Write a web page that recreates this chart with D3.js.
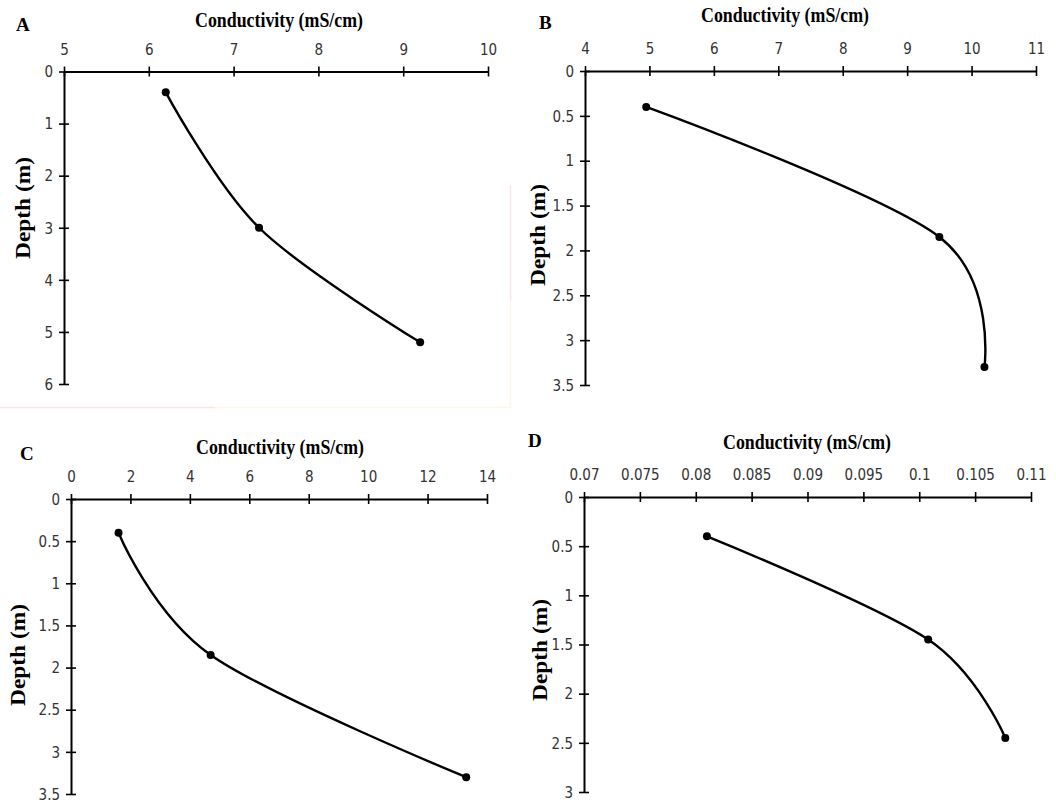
<!DOCTYPE html>
<html>
<head>
<meta charset="utf-8">
<script src="https://cdn.jsdelivr.net/npm/d3@7"></script>
<style>
  html, body { margin: 0; padding: 0; background: #fff; }
  svg { display: block; }
  .tick-label { font-family: "DejaVu Sans Condensed", "Liberation Sans Narrow", sans-serif; font-stretch: condensed; font-size: 15px; fill: #333; }
  .title { font-family: "Liberation Serif", "Times New Roman", serif; font-weight: bold; font-size: 20px; fill: #000; }
  .panel-letter { font-family: "Liberation Serif", "Times New Roman", serif; font-weight: bold; font-size: 19px; fill: #000; }
</style>
</head>
<body>
<svg id="chart" width="1056" height="807"></svg>
<script>
// Conductivity profiles with depth at four sites (A–D)
const panelIds = ["A", "B", "C", "D"];

const condA = [6.2, 7.3, 9.2];
const depthA = [0.4, 3.0, 5.2];
const condB = [4.95, 9.5, 10.2];
const depthB = [0.4, 1.85, 3.3];
const condC = [1.6, 4.7, 13.3];
const depthC = [0.4, 1.85, 3.3];
const condD = [0.081, 0.1008, 0.1077];
const depthD = [0.4, 1.45, 2.45];

const xTicksA = [5, 6, 7, 8, 9, 10];
const yTicksA = [0, 1, 2, 3, 4, 5, 6];
const xTicksB = [4, 5, 6, 7, 8, 9, 10, 11];
const yTicksB = [0, 0.5, 1, 1.5, 2, 2.5, 3, 3.5];
const xTicksC = [0, 2, 4, 6, 8, 10, 12, 14];
const yTicksC = [0, 0.5, 1, 1.5, 2, 2.5, 3, 3.5];
const xTicksD = [0.07, 0.075, 0.08, 0.085, 0.09, 0.095, 0.1, 0.105, 0.11];
const yTicksD = [0, 0.5, 1, 1.5, 2, 2.5, 3];

const xTitle = "Conductivity (mS/cm)";
const yTitle = "Depth (m)";

// Layout of each panel (pixel frame for the plot area and label anchors)
const layouts = {
  A: { x0: 64, x1: 488, y0: 71.5, y1: 384, titleX: 279, titleY: 27, letterX: 16, letterY: 31, yLabX: 24, yLabY: 208 },
  B: { x0: 585, x1: 1036, y0: 71, y1: 385, titleX: 785, titleY: 22, letterX: 539, letterY: 29, yLabX: 539, yLabY: 235 },
  C: { x0: 71, x1: 487, y0: 499, y1: 794, titleX: 280, titleY: 454, letterX: 20, letterY: 460, yLabX: 19, yLabY: 655 },
  D: { x0: 584, x1: 1031, y0: 497, y1: 792, titleX: 807, titleY: 449, letterX: 528, letterY: 447, yLabX: 541, yLabY: 650 }
};

const panels = {
  A: { cond: condA, depth: depthA, xTicks: xTicksA, yTicks: yTicksA },
  B: { cond: condB, depth: depthB, xTicks: xTicksB, yTicks: yTicksB },
  C: { cond: condC, depth: depthC, xTicks: xTicksC, yTicks: yTicksC },
  D: { cond: condD, depth: depthD, xTicks: xTicksD, yTicks: yTicksD }
};

const svg = d3.select("#chart");

// faint frame edges left around the panels
svg.append("line").attr("x1", 0).attr("x2", 215).attr("y1", 407.5).attr("y2", 407.5)
  .attr("stroke", "#fbe3e7").attr("stroke-width", 1.5);
svg.append("line").attr("x1", 215).attr("x2", 510).attr("y1", 407.5).attr("y2", 407.5)
  .attr("stroke", "#fdf7e4").attr("stroke-width", 1.5);
svg.append("line").attr("x1", 510.5).attr("x2", 510.5).attr("y1", 185).attr("y2", 300)
  .attr("stroke", "#fbe3e7").attr("stroke-width", 1.5);
svg.append("line").attr("x1", 510.5).attr("x2", 510.5).attr("y1", 300).attr("y2", 408)
  .attr("stroke", "#fdf7e4").attr("stroke-width", 1.5);

const fmt = v => String(+v.toFixed(4));

panelIds.forEach(id => {
  const p = panels[id];
  const L = layouts[id];
  const g = svg.append("g");

  const x = d3.scaleLinear()
    .domain([p.xTicks[0], p.xTicks[p.xTicks.length - 1]])
    .range([L.x0, L.x1]);
  const y = d3.scaleLinear()
    .domain([p.yTicks[0], p.yTicks[p.yTicks.length - 1]])
    .range([L.y0, L.y1]);

  // top axis (conductivity), ticks crossing the line
  const xAxis = g.append("g").attr("transform", `translate(0,${L.y0})`)
    .call(d3.axisTop(x).tickValues(p.xTicks).tickSizeInner(5).tickSizeOuter(0).tickFormat(fmt));
  xAxis.select(".domain").attr("stroke", "#000").attr("stroke-width", 2);
  xAxis.selectAll(".tick line").attr("stroke", "#000").attr("stroke-width", 1.6)
    .attr("y1", 5).attr("y2", -5);
  xAxis.selectAll(".tick text").attr("class", "tick-label").attr("y", -22).attr("dy", "0.35em");

  // left axis (depth, increasing downward)
  const yAxis = g.append("g").attr("transform", `translate(${L.x0},0)`)
    .call(d3.axisLeft(y).tickValues(p.yTicks).tickSizeInner(5).tickSizeOuter(0).tickFormat(fmt));
  yAxis.select(".domain").attr("stroke", "#000").attr("stroke-width", 2);
  yAxis.selectAll(".tick line").attr("stroke", "#000").attr("stroke-width", 1.6)
    .attr("x1", 5).attr("x2", -5);
  yAxis.selectAll(".tick text").attr("class", "tick-label").attr("x", -11).attr("dy", "0.35em");

  // profile curve and sample points
  const pts = p.cond.map((c, i) => [x(c), y(p.depth[i])]);
  g.append("path")
    .attr("d", d3.line().curve(d3.curveCardinal.tension(0))(pts))
    .attr("fill", "none").attr("stroke", "#000").attr("stroke-width", 2.4);
  g.selectAll("circle").data(pts).join("circle")
    .attr("cx", d => d[0]).attr("cy", d => d[1]).attr("r", 4)
    .attr("fill", "#000");

  // titles
  g.append("text").attr("class", "title")
    .attr("x", L.titleX).attr("y", L.titleY).attr("text-anchor", "middle")
    .attr("textLength", 168).attr("lengthAdjust", "spacingAndGlyphs")
    .text(xTitle);
  g.append("text").attr("class", "title")
    .attr("transform", `translate(${L.yLabX},${L.yLabY}) rotate(-90)`)
    .attr("text-anchor", "middle").attr("dy", "0.32em")
    .attr("textLength", 102).attr("lengthAdjust", "spacingAndGlyphs")
    .text(yTitle);
  g.append("text").attr("class", "panel-letter")
    .attr("x", L.letterX).attr("y", L.letterY)
    .text(id);
});
</script>
</body>
</html>
